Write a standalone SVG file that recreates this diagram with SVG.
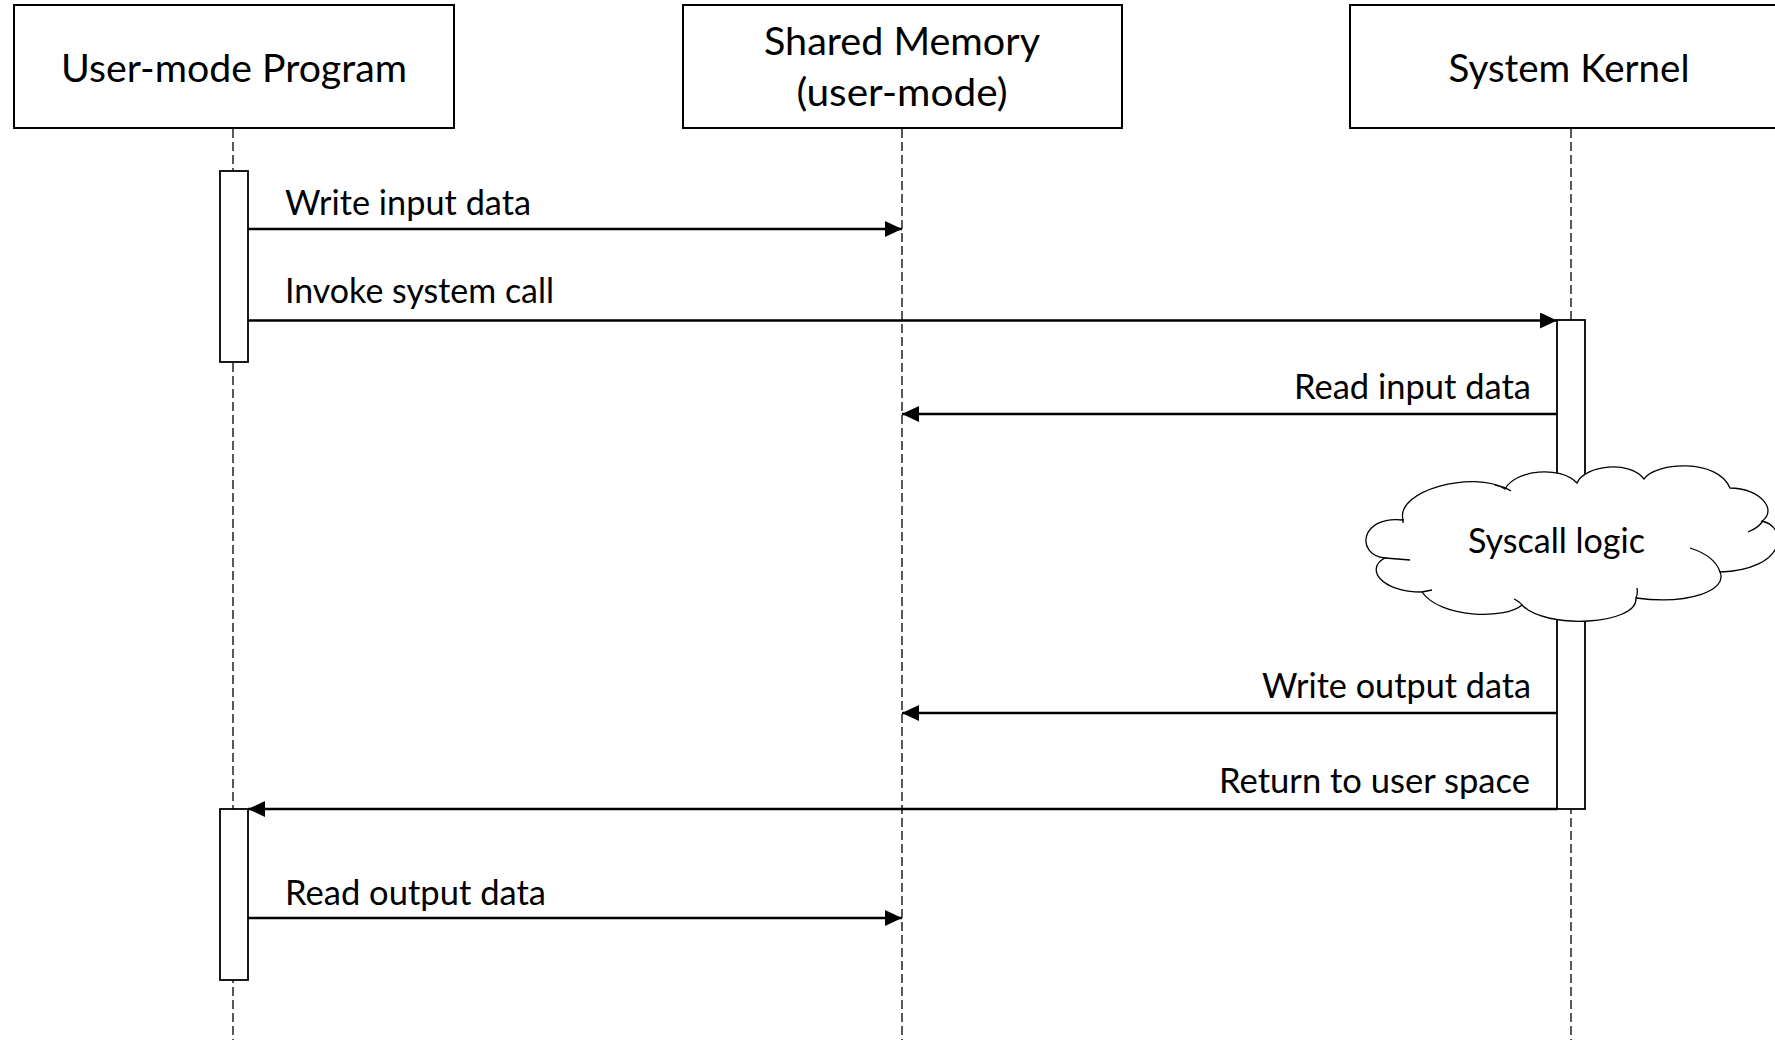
<svg xmlns="http://www.w3.org/2000/svg" width="1775" height="1044" viewBox="0 0 1775 1044">
  <style>
    .box { fill: #ffffff; stroke: #000000; stroke-width: 2; }
    .hdr { font-family: Lato, "Liberation Sans", sans-serif; font-size: 38.5px; fill: #000000; text-anchor: middle; }
    .lbl { font-family: Lato, "Liberation Sans", sans-serif; font-size: 34px; fill: #000000; }
    .life { stroke: #000000; stroke-width: 1.3; stroke-dasharray: 9 4; fill: none; }
    .act { fill: #ffffff; stroke: #000000; stroke-width: 1.8; }
    .msg { stroke: #000000; stroke-width: 2.5; fill: none; marker-end: url(#ah); }
    .cloud { fill: #ffffff; stroke: #000000; stroke-width: 1.3; }
    .hint { fill: none; stroke: #000000; stroke-width: 1.3; }
  </style>
  <defs>
    <marker id="ah" markerUnits="userSpaceOnUse" markerWidth="18" markerHeight="16" refX="17" refY="8" orient="auto">
      <path d="M0,0 L17,8 L0,16 Z" fill="#000000"/>
    </marker>
  </defs>
  <rect width="1775" height="1044" fill="#ffffff"/>

  <g id="lifelines">
    <line class="life" x1="233" y1="129" x2="233" y2="1040"/>
    <line class="life" x1="902" y1="129" x2="902" y2="1040"/>
    <line class="life" x1="1571" y1="129" x2="1571" y2="1040"/>
  </g>

  <g id="node-user">
    <rect class="box" x="14" y="5" width="440" height="123"/>
    <text class="hdr" x="234" y="82" textLength="346" lengthAdjust="spacingAndGlyphs">User-mode Program</text>
  </g>
  <g id="node-shared">
    <rect class="box" x="683" y="5" width="439" height="123"/>
    <text class="hdr" x="902" y="55" textLength="276" lengthAdjust="spacingAndGlyphs">Shared Memory</text>
    <text class="hdr" x="902" y="106" textLength="211" lengthAdjust="spacingAndGlyphs">(user-mode)</text>
  </g>
  <g id="node-kernel">
    <rect class="box" x="1350" y="5" width="440" height="123"/>
    <text class="hdr" x="1569" y="82" textLength="241" lengthAdjust="spacingAndGlyphs">System Kernel</text>
  </g>

  <g id="activations">
    <rect id="act-user-1" class="act" x="220" y="171" width="28" height="191"/>
    <rect id="act-user-2" class="act" x="220" y="809" width="28" height="171"/>
    <rect id="act-kernel" class="act" x="1557" y="320" width="28" height="489"/>
  </g>

  <g id="connectors">
    <line class="msg" x1="248" y1="229" x2="902" y2="229"/>
    <line class="msg" x1="248" y1="320.5" x2="1557" y2="320.5"/>
    <line class="msg" x1="1557" y1="414" x2="902" y2="414"/>
    <line class="msg" x1="1557" y1="713" x2="902" y2="713"/>
    <line class="msg" x1="1557" y1="809" x2="248" y2="809"/>
    <line class="msg" x1="248" y1="918" x2="902" y2="918"/>
  </g>

  <g id="labels">
    <text class="lbl" x="285" y="215" textLength="246" lengthAdjust="spacingAndGlyphs">Write input data</text>
    <text class="lbl" x="285" y="303" textLength="269" lengthAdjust="spacingAndGlyphs">Invoke system call</text>
    <text class="lbl" x="1294" y="399" textLength="237" lengthAdjust="spacingAndGlyphs">Read input data</text>
    <text class="lbl" x="1262" y="698" textLength="269" lengthAdjust="spacingAndGlyphs">Write output data</text>
    <text class="lbl" x="1219" y="793" textLength="311" lengthAdjust="spacingAndGlyphs">Return to user space</text>
    <text class="lbl" x="285" y="905" textLength="261" lengthAdjust="spacingAndGlyphs">Read output data</text>
  </g>

  <g id="node-syscall-logic">
    <path class="cloud" d="M1403,520 C1395,490 1475,470 1505,489 C1515,470 1560,465 1577,483 C1585,465 1630,460 1644,479 C1655,462 1718,458 1730,488 C1760,488 1778,510 1762,521 C1790,528 1785,570 1720,572 C1728,590 1690,605 1636,598 C1638,625 1545,630 1522,605 C1505,620 1440,618 1422,592 C1380,592 1365,568 1385,558 C1355,555 1360,515 1403,520 Z"/>
    <path class="hint" d="M1495,485 Q1505,487 1511,491 M1763,521 Q1758,528 1748,532 M1690,548 Q1715,556 1720,572 M1637,588 Q1638,594 1636,598 M1514,599 Q1520,602 1522,605 M1422,592 L1432,590 M1385,558 Q1398,559 1410,560 M1403,519 L1403,523"/>
    <text class="lbl" x="1468" y="553" textLength="177" lengthAdjust="spacingAndGlyphs">Syscall logic</text>
  </g>
</svg>
